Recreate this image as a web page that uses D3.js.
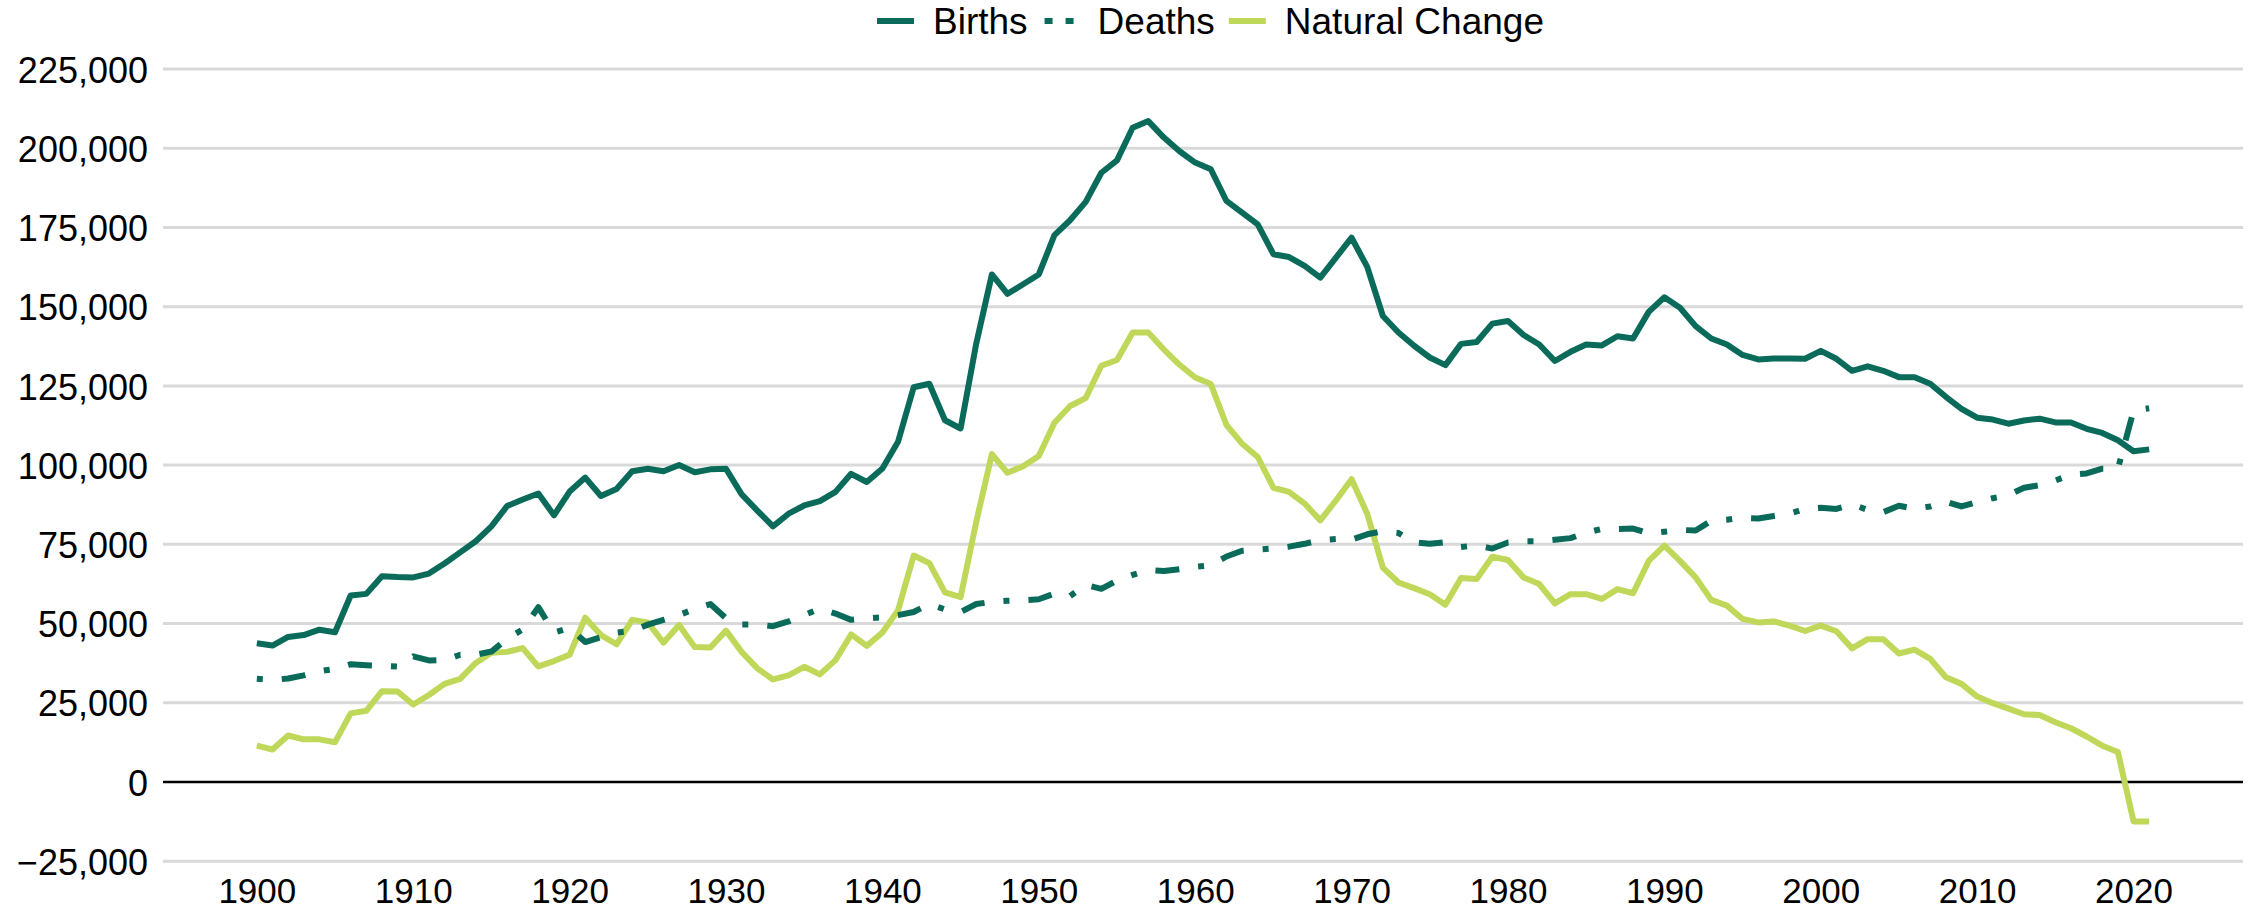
<!DOCTYPE html>
<html>
<head>
<meta charset="utf-8">
<script src="https://cdn.jsdelivr.net/npm/d3@7"></script>
<style>
  html, body { margin: 0; padding: 0; background: #ffffff; }
  svg { display: block; font-family: "Liberation Sans", Arial, sans-serif; }
</style>
</head>
<body>
<svg id="chart" width="2254" height="909"></svg>
<script>
// ---------- DATA ----------
const years = d3.range(1900, 2022); // 1900 .. 2021

const births = [
  43600, 42900, 45600, 46200, 47900, 47100, 58700, 59200, 64800, 64500,
  64400, 65600, 68800, 72300, 75800, 80500, 86900, 89000, 90900, 84000,
  91500, 95900, 90100, 92300, 97900, 98700, 97900, 99900, 97600, 98500,
  98700, 90600, 85500, 80500, 84500, 87100, 88500, 91400, 97100, 94500,
  98800, 107200, 124400, 125500, 114000, 111400, 138200, 160000, 153900, 156900,
  160000, 172400, 177100, 182900, 192100, 196000, 206300, 208400, 203200, 198900,
  195300, 193200, 183200, 179500, 175800, 166400, 165500, 162700, 159000, 165300,
  171600, 162400, 146900, 141700, 137500, 133800, 131400, 138100, 138700, 144500,
  145300, 140900, 137900, 132700, 135600, 137900, 137600, 140500, 139800, 148200,
  152800, 149500, 143700, 139800, 137900, 134600, 133200, 133500, 133500, 133400,
  135900, 133400, 129600, 131000, 129600, 127600, 127600, 125500, 121400, 117600,
  114800, 114200, 112900, 113900, 114500, 113300, 113300, 111300, 110000, 107700,
  104200, 104800
];

const deaths = [
  32400, 32000, 32500, 33500, 34800, 35500, 37000, 36700, 36500, 36300,
  39500, 38200, 38300, 40000, 40000, 41000, 45000, 48000, 55000, 47000,
  48500, 44000, 45500, 47000, 47500, 49500, 51000, 52500, 54500, 56000,
  51500, 49500, 49500, 49000, 50500, 52500, 54500, 53000, 51000, 51500,
  51800, 52500, 53500, 56000, 54300, 53500, 56000, 56700, 57000, 57200,
  57500, 59300, 58500, 62000, 60800, 63400, 65200, 66700, 66400, 67000,
  67800, 68200, 71000, 72800, 73200, 73500, 74100, 75000, 76200, 76500,
  76300, 78000, 79000, 78400, 75500, 75000, 75500, 74000, 74500, 73500,
  75400, 75800, 75800, 76300, 76800, 78500, 79700, 79700, 79800, 78300,
  78800, 79400, 79200, 82300, 82600, 83200, 83000, 83800, 84500, 86000,
  86400, 86000, 87500, 85700, 85000, 87000, 86100, 86800, 88300, 86800,
  88200, 89400, 90400, 92700, 93500, 95000, 96800, 97200, 98700, 98700,
  117000, 117800
];

const naturalChange = [
  11300, 10100, 14500, 13300, 13300, 12400, 21500, 22300, 28500, 28400,
  24300, 27300, 30800, 32400, 37400, 40600, 40900, 42100, 36300, 38000,
  40000, 51700, 46200, 43300, 51000, 50200, 43800, 49400, 42400, 42300,
  47600, 40900, 35700, 32200, 33500, 36200, 33800, 38300, 46400, 42800,
  47000, 54000, 71300, 68900, 59700, 58200, 81900, 103300, 97400, 99500,
  102700, 113200, 118500, 121000, 131200, 133000, 141700, 141700, 136300, 131500,
  127500, 125400, 112500, 106600, 102400, 92700, 91400, 87700, 82400, 88700,
  95400, 84500, 67500, 62800, 61000, 59100, 55800, 64200, 63900, 70900,
  69900, 64400, 62300, 56200, 59100, 59100, 57600, 60700, 59400, 69600,
  74400, 69600, 64400, 57300, 55500, 51300, 50200, 50500, 49200, 47500,
  49200, 47400, 42000, 44900, 44900, 40400, 41600, 38700, 32900, 30800,
  26800, 24700, 23000, 21200, 21000, 18700, 16800, 14200, 11300, 9300,
  -12600, -12600
];

const yTicks = [-25000, 0, 25000, 50000, 75000, 100000, 125000, 150000, 175000, 200000, 225000];
const xTicks = [1900, 1910, 1920, 1930, 1940, 1950, 1960, 1970, 1980, 1990, 2000, 2010, 2020];
const seriesNames = ["Births", "Deaths", "Natural Change"];

// ---------- STYLE / LAYOUT ----------
const COL_DARK = "#0b6b5b";
const COL_LIME = "#bfd85a";
const LINE_W = 6;
const DEATH_DASH = "6,19,24,19";

const svg = d3.select("#chart");
const plotLeft = 163, plotRight = 2243;
const yTop = 68.5, yBottom = 860.7;

const x = d3.scaleLinear().domain([1894, 2027]).range([plotLeft, plotRight]);
const y = d3.scaleLinear().domain([-25000, 225000]).range([yBottom, yTop]);

// ---------- Y AXIS + GRID ----------
const yAxis = d3.axisLeft(y)
  .tickValues(yTicks)
  .tickFormat(d3.format(","))
  .tickSize(-(plotRight - plotLeft))
  .tickPadding(15);

const gy = svg.append("g")
  .attr("transform", `translate(${plotLeft},0)`)
  .call(yAxis);
gy.select(".domain").remove();
gy.selectAll(".tick line")
  .attr("stroke", d => d === 0 ? "#000000" : "#d9d9d9")
  .attr("stroke-width", d => d === 0 ? 2.7 : 3);
gy.selectAll(".tick text")
  .attr("font-size", 36)
  .attr("fill", "#000")
  .attr("dy", "0.38em")
  .style("font-family", '"Liberation Sans", Arial, sans-serif');
gy.selectAll(".tick").filter(d => d === 0).raise();

// ---------- X AXIS ----------
const xAxis = d3.axisBottom(x)
  .tickValues(xTicks)
  .tickFormat(d3.format("d"))
  .tickSize(0)
  .tickPadding(17.5);
const gx = svg.append("g")
  .attr("transform", `translate(0,${yBottom})`)
  .call(xAxis);
gx.select(".domain").remove();
gx.selectAll(".tick text")
  .attr("font-size", 35)
  .attr("fill", "#000")
  .style("font-family", '"Liberation Sans", Arial, sans-serif');

// ---------- LINES ----------
const line = d3.line()
  .x((d, i) => x(years[i]))
  .y(d => y(d));

const plotG = svg.append("g");

plotG.append("path")
  .datum(naturalChange)
  .attr("d", line)
  .attr("fill", "none")
  .attr("stroke", COL_LIME)
  .attr("stroke-width", LINE_W)
  .attr("stroke-linejoin", "round");

plotG.append("path")
  .datum(deaths)
  .attr("d", line)
  .attr("fill", "none")
  .attr("stroke", COL_DARK)
  .attr("stroke-width", LINE_W)
  .attr("stroke-linejoin", "round")
  .attr("stroke-dasharray", DEATH_DASH);

plotG.append("path")
  .datum(births)
  .attr("d", line)
  .attr("fill", "none")
  .attr("stroke", COL_DARK)
  .attr("stroke-width", LINE_W)
  .attr("stroke-linejoin", "round");

// ---------- LEGEND ----------
const legendItems = [
  { name: seriesNames[0], color: COL_DARK, dash: null },
  { name: seriesNames[1], color: COL_DARK, dash: "8,13" },
  { name: seriesNames[2], color: COL_LIME, dash: null }
];
const legend = svg.append("g");
const legY = 21;
const markerLen = 37, markerGap = 19, itemGap = 14;
let cx = 877;
legendItems.forEach(it => {
  const g = legend.append("g");
  const l = g.append("line")
    .attr("y1", legY).attr("y2", legY)
    .attr("stroke", it.color)
    .attr("stroke-width", LINE_W);
  if (it.dash) {
    l.attr("x1", cx + 3).attr("x2", cx + 33).attr("stroke-dasharray", it.dash);
  } else {
    l.attr("x1", cx).attr("x2", cx + markerLen);
  }
  const t = g.append("text")
    .attr("x", cx + markerLen + markerGap)
    .attr("y", legY + 13)
    .attr("font-size", 37)
    .attr("fill", "#000")
    .text(it.name);
  const w = t.node().getComputedTextLength();
  cx = cx + markerLen + markerGap + w + itemGap;
});
</script>
</body>
</html>
